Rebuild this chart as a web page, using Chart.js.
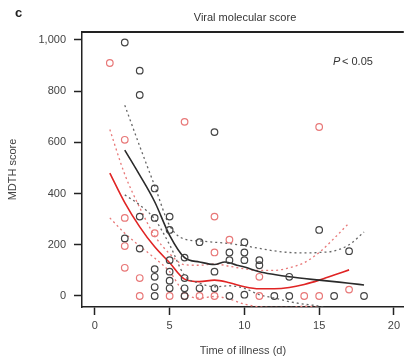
<!DOCTYPE html>
<html>
<head>
<meta charset="utf-8">
<script src="https://cdn.jsdelivr.net/npm/chart.js@4"></script>
<style>
  html, body { margin: 0; padding: 0; background: #fff; }
  #wrap { width: 409px; height: 361px; }
</style>
</head>
<body>
<div id="wrap"><canvas id="chart" width="409" height="361"></canvas></div>
<script>
// Scatter points (day, MDTH score)
const blackDays = [2, 3, 3, 8, 4, 2, 3, 3, 4, 4, 4, 4, 4, 5, 5, 5, 5, 5, 5, 6, 6, 6, 6, 7, 7, 8, 8, 9, 9, 9, 10, 10, 10, 10, 11, 11, 12, 13, 13, 15, 16, 17, 18];
const blackScores = [990, 880, 785, 640, 420, 225, 310, 185, 305, 105, 75, 35, 0, 310, 258, 140, 95, 60, 30, 70, 150, 30, 0, 210, 30, 95, 30, 170, 140, 0, 210, 170, 140, 5, 140, 120, 0, 75, 0, 258, 0, 175, 0];
const redDays = [1, 2, 2, 2, 2, 3, 3, 4, 5, 6, 6, 7, 8, 8, 8, 9, 11, 11, 14, 15, 15, 17];
const redScores = [910, 610, 305, 195, 110, 70, 0, 245, 0, 680, 0, 0, 310, 170, 0, 220, 75, 0, 0, 660, 0, 25];

// Smoothed fits with bands
const blackFitDays = [2, 3, 4, 5, 6, 7, 8, 8.7, 9.5, 10, 11, 12, 13, 14, 15, 16, 17, 18];
const blackFit = [570, 472, 368, 237, 150, 133, 123, 133, 120, 113, 95, 84, 75, 68, 62, 56, 50, 43];
const blackBandDays = [2, 3, 4, 5, 6, 7, 8, 9, 10, 11, 12, 13, 14, 15, 16, 17, 18];
const blackUpper = [745, 585, 430, 275, 222, 215, 210, 205, 196, 186, 176, 170, 168, 170, 176, 200, 250];
const blackLower = [395, 355, 300, 200, 80, 50, 36, 40, 30, 5, -8, -22, -32, -40, -60, -80, -120];

const redFitDays = [1, 2, 3, 4, 5, 6, 7, 8, 9, 10, 11, 12, 13, 14, 15, 16, 17];
const redFit = [480, 365, 270, 192, 130, 66, 56, 62, 52, 36, 28, 28, 33, 45, 62, 82, 102];
const redUpper = [650, 475, 345, 235, 165, 122, 120, 125, 116, 106, 100, 100, 110, 130, 170, 225, 285];
const redLower = [305, 245, 195, 148, 95, 12, -8, -2, -12, -32, -42, -45, -45, -40, -45, -60, -80];

const xTicks = [0, 5, 10, 15, 20];
const yTicks = [0, 200, 400, 600, 800, 1000];

const BLACK = '#2b2b2b';
const RED = '#e02424';
const PINK = '#e87878';
const GREY = '#666';

const pts = (xs, ys) => xs.map((x, i) => ({ x, y: ys[i] }));

function lineSet(xs, ys, color, width, dash) {
  return {
    type: 'line',
    data: pts(xs, ys),
    borderColor: color,
    borderWidth: width,
    borderDash: dash || [],
    pointRadius: 0,
    fill: false,
    tension: 0.4,
    cubicInterpolationMode: 'monotone',
    order: 2
  };
}

const extras = {
  id: 'extras',
  afterDraw(chart) {
    const { ctx, chartArea } = chart;
    ctx.save();
    // facet strip line
    ctx.strokeStyle = '#222';
    ctx.lineWidth = 2;
    ctx.beginPath();
    ctx.moveTo(chartArea.left, chartArea.top);
    ctx.lineTo(chartArea.right, chartArea.top);
    ctx.stroke();

    ctx.fillStyle = '#333';
    ctx.textBaseline = 'middle';
    ctx.textAlign = 'center';
    ctx.font = '11px "Liberation Sans", Arial, sans-serif';
    ctx.fillText('Viral molecular score', 245, 18);

    ctx.textAlign = 'left';
    ctx.font = 'bold 13px "Liberation Sans", Arial, sans-serif';
    ctx.fillStyle = '#222';
    ctx.fillText('c', 15, 13);

    ctx.fillStyle = '#333';
    ctx.font = 'italic 11px "Liberation Sans", Arial, sans-serif';
    ctx.fillText('P', 333, 62);
    ctx.font = '11px "Liberation Sans", Arial, sans-serif';
    ctx.fillText('< 0.05', 342, 62);
    ctx.restore();
  }
};

new Chart(document.getElementById('chart'), {
  type: 'scatter',
  data: {
    datasets: [
      {
        data: pts(blackDays, blackScores),
        borderColor: '#444',
        backgroundColor: 'rgba(0,0,0,0)',
        borderWidth: 1.2,
        pointRadius: 3.3,
        order: 1
      },
      {
        data: pts(redDays, redScores),
        borderColor: PINK,
        backgroundColor: 'rgba(0,0,0,0)',
        borderWidth: 1.2,
        pointRadius: 3.3,
        order: 1
      },
      lineSet(blackFitDays, blackFit, BLACK, 1.6),
      lineSet(blackBandDays, blackUpper, GREY, 1.3, [2, 3]),
      lineSet(blackBandDays, blackLower, GREY, 1.3, [2, 3]),
      lineSet(redFitDays, redFit, RED, 1.6),
      lineSet(redFitDays, redUpper, PINK, 1.3, [2, 3]),
      lineSet(redFitDays, redLower, PINK, 1.3, [2, 3])
    ]
  },
  options: {
    responsive: false,
    animation: false,
    layout: { padding: { top: 32, right: 0, left: 0, bottom: 0 } },
    plugins: {
      legend: { display: false },
      tooltip: { enabled: false },
      title: { display: false }
    },
    scales: {
      x: {
        type: 'linear',
        min: -0.86,
        max: 20.66,
        afterFit: (scale) => { scale.height = 54; },
        afterBuildTicks: (scale) => { scale.ticks = xTicks.map(v => ({ value: v })); },
        grid: { drawOnChartArea: false, drawTicks: true, tickLength: 8, tickColor: '#222', tickWidth: 1.5 },
        border: { display: true, color: '#222', width: 1.5 },
        ticks: { color: '#444', padding: 4, font: { size: 11, family: '"Liberation Sans", Arial, sans-serif' } },
        title: { display: true, text: 'Time of illness (d)', color: '#444', padding: { top: 0, bottom: 3 }, font: { size: 11, family: '"Liberation Sans", Arial, sans-serif' } }
      },
      y: {
        type: 'linear',
        min: -43,
        max: 1031,
        afterFit: (scale) => { scale.width = 82; },
        afterBuildTicks: (scale) => { scale.ticks = yTicks.map(v => ({ value: v })); },
        grid: { drawOnChartArea: false, drawTicks: true, tickLength: 8, tickColor: '#222', tickWidth: 1.5 },
        border: { display: true, color: '#222', width: 1.5 },
        ticks: {
          color: '#444',
          padding: 8,
          font: { size: 11, family: '"Liberation Sans", Arial, sans-serif' },
          callback: v => v.toLocaleString('en-US')
        },
        title: { display: true, text: 'MDTH score', color: '#444', padding: { top: 6, bottom: 0 }, font: { size: 11, family: '"Liberation Sans", Arial, sans-serif' } }
      }
    }
  },
  plugins: [extras]
});
</script>
</body>
</html>
